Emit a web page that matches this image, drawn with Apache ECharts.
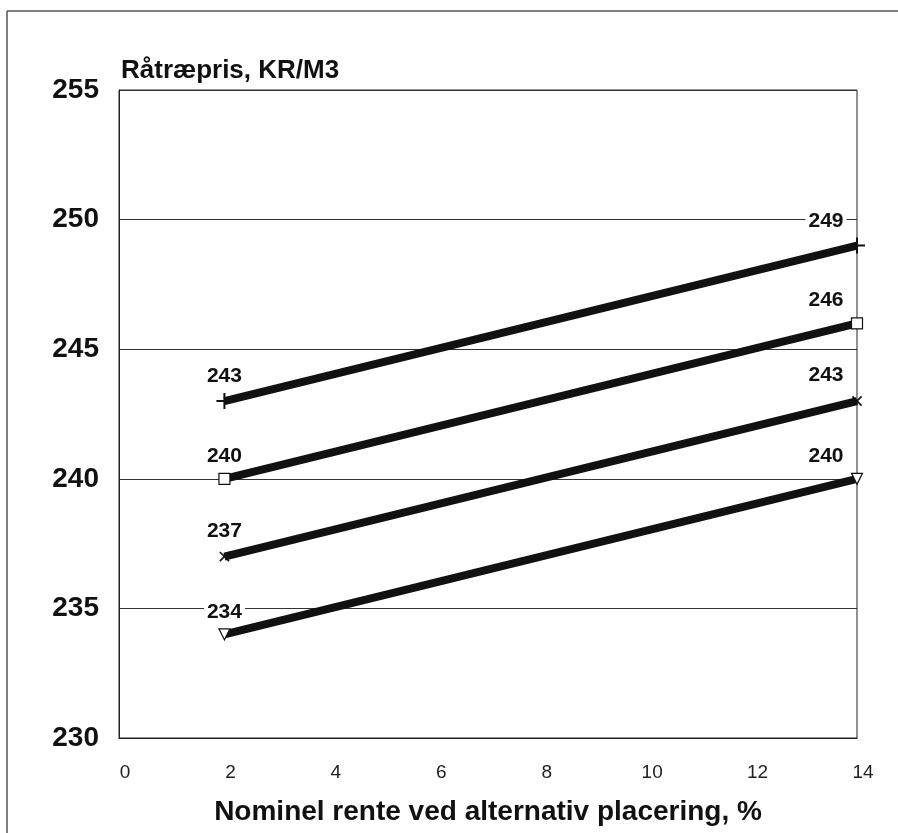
<!DOCTYPE html>
<html>
<head>
<meta charset="utf-8">
<script src="https://cdn.jsdelivr.net/npm/echarts@6/dist/echarts.min.js"></script>
<style>
html,body{margin:0;padding:0;background:#fff;}
#chart{width:898px;height:833px;}
</style>
</head>
<body>
<div id="chart"></div>
<script>
const xValues = [2, 14];
const seriesPlus = [243, 249];
const seriesSquare = [240, 246];
const seriesCross = [237, 243];
const seriesTriangle = [234, 240];
const yTitle = 'Råtræpris, KR/M3';
const xTitle = 'Nominel rente ved alternativ placering, %';

const plusPath = 'path://M7,0H9V16H7ZM0,7H16V9H0Z';

function mkData(vals) {
  return vals.map((v, i) => {
    const item = { value: [xValues[i], v] };
    if (i === vals.length - 1) item.label = { offset: [-31, 0] };
    return item;
  });
}

function mkSeries(vals, symbol, size, rotate, fill) {
  return {
    type: 'line',
    data: mkData(vals),
    symbol: symbol,
    symbolSize: size,
    symbolRotate: rotate,
    z: 3,
    lineStyle: { color: '#111', width: 8 },
    itemStyle: { color: fill, borderColor: '#111', borderWidth: fill === '#fff' ? 1.2 : 0 },
    label: {
      show: true, position: 'top', distance: 6,
      fontFamily: 'Liberation Sans, Arial, sans-serif', fontWeight: 'bold', fontSize: 21,
      color: '#111', backgroundColor: '#fff', padding: [0, 3],
      formatter: p => String(p.value[1])
    },
    emphasis: { disabled: true },
    animation: false
  };
}

const chart = echarts.init(document.getElementById('chart'));
chart.setOption({
  animation: false,
  backgroundColor: '#fff',
  grid: { left: 119, right: 41, top: 90, bottom: 95, show: true, borderColor: '#222', borderWidth: 1, backgroundColor: 'transparent' },
  title: {
    text: yTitle, left: 116, top: 53,
    textStyle: { fontFamily: 'Liberation Sans, Arial, sans-serif', fontWeight: 'bold', fontSize: 26, color: '#111' }
  },
  graphic: [
    { type: 'line', shape: { x1: 7, y1: 11, x2: 7, y2: 833 }, style: { stroke: '#555', lineWidth: 1.5 } },
    { type: 'line', shape: { x1: 7, y1: 11, x2: 898, y2: 11 }, style: { stroke: '#555', lineWidth: 1.5 } }
  ],
  xAxis: {
    type: 'value', min: 0, max: 14, interval: 2,
    name: xTitle, nameLocation: 'middle', nameGap: 60,
    nameTextStyle: { fontFamily: 'Liberation Sans, Arial, sans-serif', fontWeight: 'bold', fontSize: 28, color: '#111' },
    axisLine: { show: true, lineStyle: { color: '#222', width: 1 } },
    axisTick: { show: false },
    splitLine: { show: false },
    axisLabel: {
      margin: 25, padding: [0, 0, 0, 12],
      fontFamily: 'Liberation Sans Narrow, Liberation Sans, Arial, sans-serif', fontSize: 19, color: '#222'
    }
  },
  yAxis: {
    type: 'value', min: 230, max: 255, interval: 5,
    axisLine: { show: true, lineStyle: { color: '#222', width: 1 } },
    axisTick: { show: false },
    splitLine: { show: true, lineStyle: { color: '#333', width: 1 } },
    axisLabel: {
      margin: 20,
      fontFamily: 'Liberation Sans, Arial, sans-serif', fontWeight: 'bold', fontSize: 28, color: '#111'
    }
  },
  series: [
    mkSeries(seriesPlus, plusPath, 16, 0, '#111'),
    mkSeries(seriesSquare, 'rect', 11, 0, '#fff'),
    mkSeries(seriesCross, plusPath, 13, 45, '#111'),
    mkSeries(seriesTriangle, 'triangle', 11, 180, '#fff')
  ]
});
</script>
</body>
</html>
